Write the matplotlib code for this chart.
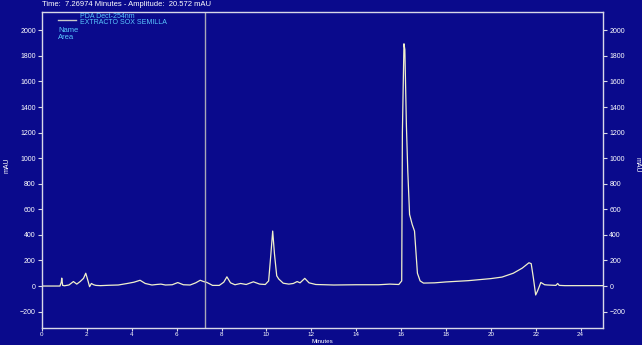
import matplotlib
matplotlib.use("Agg")
import matplotlib.pyplot as plt
from matplotlib.lines import Line2D

plt.rcParams['font.family'] = ['Liberation Sans', 'DejaVu Sans']

# chromatogram trace (minutes, mAU)
minutes = [0.0, 0.80, 0.86, 0.88, 0.92, 1.0, 1.2, 1.4, 1.55, 1.7, 1.85, 1.95,
           2.05, 2.12, 2.2, 2.3, 2.4, 2.6, 3.0, 3.4, 3.8, 4.1, 4.37, 4.6, 4.9,
           5.1, 5.3, 5.5, 5.8, 6.05, 6.3, 6.6, 6.85, 7.05, 7.2, 7.35, 7.6, 7.9,
           8.1, 8.24, 8.4, 8.6, 8.85, 9.1, 9.42, 9.7, 9.95, 10.1, 10.2, 10.28,
           10.36, 10.46, 10.55, 10.75, 11.0, 11.2, 11.37, 11.5, 11.71, 11.9,
           12.2, 13.0, 14.0, 15.0, 15.5, 15.9, 16.03, 16.06, 16.13, 16.17, 16.24,
           16.3, 16.38, 16.5, 16.6, 16.73, 16.85, 17.0, 17.5, 18.0, 19.0, 20.0,
           20.5, 21.0, 21.4, 21.7, 21.8, 21.9, 22.0, 22.08, 22.23, 22.4, 22.53,
           22.9, 22.98, 23.05, 23.3, 25.0]
mau = [0, 0, 30, 62, 5, 2, 8, 35, 15, 35, 60, 100,
       40, -5, 20, 10, 5, 3, 6, 8, 20, 30, 45, 20, 8,
       12, 15, 8, 10, 27, 10, 8, 25, 45, 35, 28, 5, 5,
       30, 72, 25, 10, 20, 12, 33, 15, 12, 40, 250, 430,
       250, 80, 55, 22, 15, 20, 35, 25, 60, 25,
       12, 8, 10, 10, 15, 12, 40, 1200, 1895, 1850, 1250,
       900, 560, 480, 430, 100, 40, 23, 25, 32, 42, 58,
       70, 100, 140, 182, 175, 60, -70, -40, 28, 10, 8,
       5, 20, 5, 3, 3]

x_ticks = [0, 2, 4, 6, 8, 10, 12, 14, 16, 18, 20, 22, 24]
y_ticks = [-200, 0, 200, 400, 600, 800, 1000, 1200, 1400, 1600, 1800, 2000]
cursor_time = 7.26974
cursor_amp = 20.572

bg = '#0a0a8c'
fg = '#d8d8e8'
W, H = 642, 345
fig = plt.figure(figsize=(6.42, 3.45), dpi=100, facecolor=bg)
ax = fig.add_axes([42/W, 1-327.7/H, (603-42)/W, (327.7-11.7)/H])
ax.set_facecolor(bg)

ax.plot(minutes, mau, color='#f0f0cc', lw=0.9)
ax.axvline(cursor_time, color='#a8a8b8', lw=1.0)

ax.set_xlim(0, 25)
ax.set_ylim(-326, 2146)
ax.set_xticks(x_ticks)
ax.set_yticks(y_ticks)
ax.tick_params(colors=fg, labelsize=5, length=3, width=0.8, pad=1.5,
               labelcolor='white')
ax.tick_params(axis='x', labelsize=4.5, length=2.5, pad=0.8)
ax.tick_params(axis='y', right=True, labelright=True)
for s in ax.spines.values():
    s.set_color(fg)
    s.set_linewidth(1.0)

fig.text(322/W, 1-341.5/H, 'Minutes', color='white', fontsize=4.5,
         ha='center', va='center')
fig.text(7/W, 1-165/H, 'mAU', color='white', fontsize=5,
         rotation=90, ha='center', va='center')
fig.text(637/W, 1-165/H, 'mAU', color='white', fontsize=5,
         rotation=270, ha='center', va='center')

fig.text(42/W, 1-4/H,
         'Time:  {:.5f} Minutes - Amplitude:  {:.3f} mAU'.format(cursor_time, cursor_amp),
         color='white', fontsize=5.5, ha='left', va='center')

# legend block
fig.add_artist(Line2D([58/W, 76/W], [1-19.5/H, 1-19.5/H], color='#c8c8c8', lw=1.0))
cyan = '#5ac8ff'
fig.text(80/W, 1-17/H, 'PDA Dect-254nm', color=cyan, fontsize=5,
         ha='left', va='center')
fig.text(80/W, 1-23/H, 'EXTRACTO SOX SEMILLA', color=cyan, fontsize=5,
         ha='left', va='center')
fig.text(58/W, 1-30/H, 'Name', color=cyan, fontsize=5.5,
         ha='left', va='center')
fig.text(58/W, 1-37.5/H, 'Area', color=cyan, fontsize=5.5,
         ha='left', va='center')

fig.savefig('out.png', dpi=100, facecolor=bg)
